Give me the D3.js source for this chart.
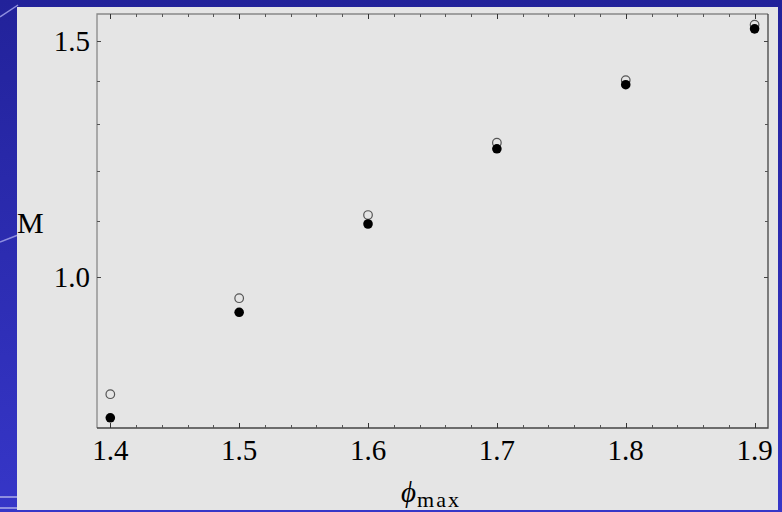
<!DOCTYPE html>
<head>
<meta charset="utf-8">
<style>
  body { margin: 0; background: #2a2aa8; }
  svg { display: block; }
  .tick-label { font-family: "Liberation Serif", "Times New Roman", serif; fill: #000; }
</style>
</head>
<body>
<script src="https://cdn.jsdelivr.net/npm/d3@7"></script>
<script>
// data
var phiMax = [1.4, 1.5, 1.6, 1.7, 1.8, 1.9];
var mOpen = [0.8175, 0.964, 1.112, 1.259, 1.402, 1.542];
var mFilled = [0.785, 0.941, 1.095, 1.246, 1.391, 1.531];

var xMajor = [1.4, 1.5, 1.6, 1.7, 1.8, 1.9];
var xMinor = d3.range(1.42, 1.9, 0.02).filter(function(v) {
  return Math.abs(v * 10 - Math.round(v * 10)) > 1e-6;
});
var yMajor = [1.0, 1.5];
var yMinor = [1.1, 1.2, 1.3, 1.4];

(function() {
  var W = 782, H = 512,
      frame = {left: 97, right: 768, top: 14, bottom: 428};

  var svg = d3.select("body").append("svg")
    .attr("width", W).attr("height", H);

  // slide background
  var defs = svg.append("defs");
  var grad = defs.append("linearGradient").attr("id", "bg")
    .attr("x1", 0).attr("y1", 0).attr("x2", 0).attr("y2", 1);
  grad.append("stop").attr("offset", "0%").attr("stop-color", "#22229a");
  grad.append("stop").attr("offset", "100%").attr("stop-color", "#3636c8");
  svg.append("rect").attr("width", W).attr("height", H).attr("fill", "url(#bg)");

  var deco = svg.append("g").attr("stroke", "#8f8fe0").attr("stroke-width", 1.5).attr("fill", "none");
  deco.append("path").attr("d", "M0,17 L18,5");
  deco.append("path").attr("d", "M0,242 L18,235");
  deco.append("path").attr("d", "M0,497 L18,497").attr("stroke-width", 2);
  deco.append("path").attr("d", "M0,508 L18,508").attr("stroke-width", 2);

  // light panel
  svg.append("rect")
    .attr("x", 17).attr("y", 7).attr("width", 761).attr("height", 503)
    .attr("fill", "#e5e5e5");

  var x = d3.scaleLinear()
    .domain([1.4 - 13.3 / 1288, 1.9 + 13.4 / 1288])
    .range([frame.left, frame.right]);

  var y = d3.scaleLog()
    .domain([0.7714, 1.5705])
    .range([frame.bottom, frame.top]);

  var g = svg.append("g");

  // frame
  g.append("path").attr("d", "M" + frame.left + "," + frame.bottom + "V" + frame.top + "H" + frame.right)
    .attr("fill", "none").attr("stroke", "#888").attr("stroke-width", 1.3);
  g.append("path").attr("d", "M" + frame.left + "," + frame.bottom + "H" + frame.right + "V" + frame.top)
    .attr("fill", "none").attr("stroke", "#444").attr("stroke-width", 1.3);

  // x ticks (bottom and top)
  function xTicks(vals, len, col) {
    vals.forEach(function(v) {
      var px = Math.round(x(v)) + 0.5;
      g.append("line").attr("x1", px).attr("x2", px)
        .attr("y1", frame.bottom).attr("y2", frame.bottom - len)
        .attr("stroke", col).attr("stroke-width", 1);
      g.append("line").attr("x1", px).attr("x2", px)
        .attr("y1", frame.top).attr("y2", frame.top + len)
        .attr("stroke", col).attr("stroke-width", 1);
    });
  }
  xTicks(xMajor, 5, "#333");
  xTicks(xMinor, 3, "#555");

  // y ticks (left and right)
  function yTicks(vals, len, col) {
    vals.forEach(function(v) {
      var py = Math.round(y(v)) + 0.5;
      g.append("line").attr("x1", frame.left).attr("x2", frame.left + len)
        .attr("y1", py).attr("y2", py)
        .attr("stroke", col).attr("stroke-width", 1);
      g.append("line").attr("x1", frame.right).attr("x2", frame.right - len)
        .attr("y1", py).attr("y2", py)
        .attr("stroke", col).attr("stroke-width", 1);
    });
  }
  yTicks(yMajor, 4, "#444");
  yTicks(yMinor, 3, "#555");

  // tick labels
  g.selectAll(".xl").data(xMajor).enter().append("text")
    .attr("class", "tick-label")
    .attr("x", function(d) { return x(d); })
    .attr("y", 460)
    .attr("text-anchor", "middle")
    .attr("font-size", 29)
    .text(function(d) { return d3.format(".1f")(d); });

  g.selectAll(".yl").data(yMajor).enter().append("text")
    .attr("class", "tick-label")
    .attr("x", 90)
    .attr("y", function(d) { return y(d) + 10; })
    .attr("text-anchor", "end")
    .attr("font-size", 29)
    .text(function(d) { return d3.format(".1f")(d); });

  // axis titles
  g.append("text").attr("class", "tick-label")
    .attr("x", 17).attr("y", 233)
    .attr("font-size", 30)
    .text("M");

  var xt = g.append("text").attr("class", "tick-label")
    .attr("x", 401).attr("y", 502)
    .attr("font-size", 29);
  xt.append("tspan").attr("font-style", "italic").text("\u03D5");
  xt.append("tspan").attr("font-size", 22).attr("dy", 5).attr("dx", 1).attr("letter-spacing", 2).text("max");

  // points
  g.selectAll(".open").data(phiMax).enter().append("circle")
    .attr("cx", function(d) { return x(d); })
    .attr("cy", function(d, i) { return y(mOpen[i]); })
    .attr("r", 4.3)
    .attr("fill", "none")
    .attr("stroke", "#555")
    .attr("stroke-width", 1.2);

  g.selectAll(".filled").data(phiMax).enter().append("circle")
    .attr("cx", function(d) { return x(d); })
    .attr("cy", function(d, i) { return y(mFilled[i]); })
    .attr("r", 4.8)
    .attr("fill", "#000");
})();
</script>
</body>
